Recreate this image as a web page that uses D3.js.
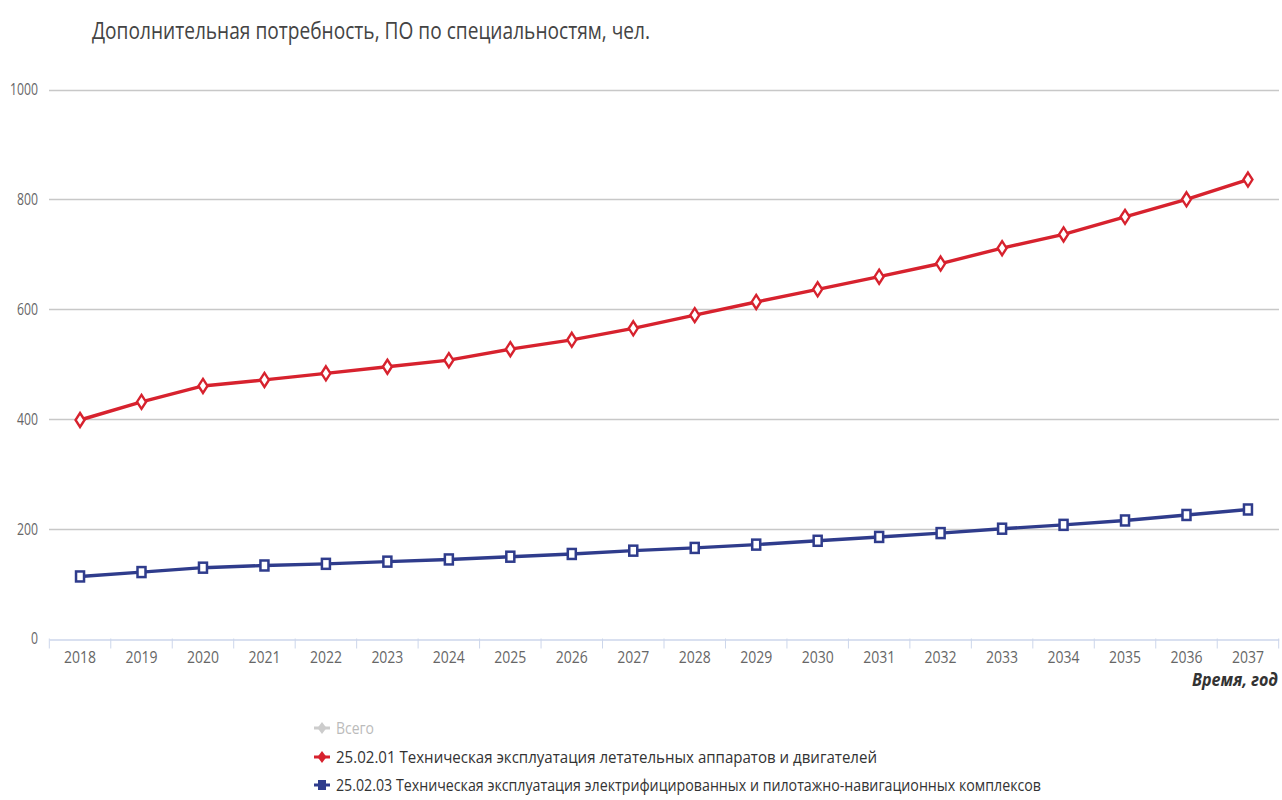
<!DOCTYPE html>
<html><head><meta charset="utf-8">
<script src="https://cdn.jsdelivr.net/npm/d3@7"></script>
<style>
html,body{margin:0;padding:0;background:#fff;}
svg{display:block;font-family:"Open Sans","DejaVu Sans",sans-serif;}
</style></head>
<body>
<svg id="chart" width="1282" height="800"></svg>
<script>
const years = ["2018","2019","2020","2021","2022","2023","2024","2025","2026","2027","2028","2029","2030","2031","2032","2033","2034","2035","2036","2037"];
const seriesRed = [398,431,460,471,483,495,507,527,544,565,589,613,636,659,683,711,736,768,800,836];
const seriesBlue = [113,121,129,133,136,140,144,149,154,160,165,171,178,185,192,200,207,215,225,235];
const yTicks = [0,200,400,600,800,1000];
const titleText = "Дополнительная потребность, ПО по специальностям, чел.";
const xTitle = "Время, год";
const legendNames = ["Всего","25.02.01 Техническая эксплуатация летательных аппаратов и двигателей","25.02.03 Техническая эксплуатация электрифицированных и пилотажно-навигационных комплексов"];

const svg = d3.select("#chart");
const x = d3.scaleBand().domain(years).range([49.3, 1278.7]);
const y = d3.scaleLinear().domain([0,1000]).range([638.5, 89.5]);
const cx = d => x(d) + x.bandwidth()/2;

// title
svg.append("text").attr("x",92).attr("y",39).attr("font-size",23).attr("fill","#444")
  .attr("textLength",558).attr("lengthAdjust","spacingAndGlyphs").text(titleText);

// grid
svg.append("g").selectAll("line").data(yTicks.filter(t=>t>0)).join("line")
  .attr("x1",49).attr("x2",1279).attr("y1",d=>Math.round(y(d))+0.5).attr("y2",d=>Math.round(y(d))+0.5)
  .attr("stroke","#c8c8c8").attr("stroke-width",1.5);

// y labels
svg.append("g").selectAll("text").data(yTicks).join("text")
  .attr("x",38).attr("y",d=>y(d)+6).attr("text-anchor","end").attr("font-size",17).attr("fill","#666")
  .attr("transform",`translate(38,0) scale(0.72,1) translate(-38,0)`)
  .text(d=>d);

// x axis
const xAxis = svg.append("g").attr("transform",`translate(0,${Math.round(y(0))+0.5})`)
  .call(d3.axisBottom(x).tickSize(0).tickPadding(0));
xAxis.select(".domain").attr("stroke","#ccd6eb").attr("stroke-width",1.5);
xAxis.selectAll(".tick text").remove();
const bounds = years.map(d=>x(d)).concat([x(years[years.length-1])+x.bandwidth()]);
svg.append("g").selectAll("line").data(bounds).join("line")
  .attr("x1",d=>d).attr("x2",d=>d).attr("y1",y(0)).attr("y2",y(0)+10)
  .attr("stroke","#ccd6eb").attr("stroke-width",1);
svg.append("g").selectAll("text").data(years).join("text")
  .attr("x",d=>cx(d)).attr("y",663).attr("text-anchor","middle").attr("font-size",17).attr("fill","#666")
  .attr("textLength",32).attr("lengthAdjust","spacingAndGlyphs")
  .text(d=>d);
svg.append("text").attr("x",1278).attr("y",686).attr("text-anchor","end").attr("font-size",17)
  .attr("font-weight","bold").attr("font-style","italic").attr("fill","#333")
  .attr("textLength",86).attr("lengthAdjust","spacingAndGlyphs").text(xTitle);

// lines
const line = d3.line().x((d,i)=>cx(years[i])).y(d=>y(d));
const red = "#d7222e", blue = "#2f3c8c";
svg.append("path").datum(seriesRed).attr("d",line).attr("fill","none").attr("stroke",red).attr("stroke-width",3.4);
svg.append("path").datum(seriesBlue).attr("d",line).attr("fill","none").attr("stroke",blue).attr("stroke-width",3.4);

// markers
const diamond = "M0,-7 L4.5,0 L0,7 L-4.5,0 Z";
svg.append("g").selectAll("path").data(seriesRed).join("path")
  .attr("d",diamond).attr("transform",(d,i)=>`translate(${cx(years[i])},${y(d)})`)
  .attr("fill","#fff").attr("stroke",red).attr("stroke-width",2.4);
svg.append("g").selectAll("rect").data(seriesBlue).join("rect")
  .attr("x",(d,i)=>cx(years[i])-4).attr("y",d=>y(d)-5).attr("width",8).attr("height",10)
  .attr("fill","#fff").attr("stroke",blue).attr("stroke-width",2.5);

// legend
const legColors = ["#cccccc", red, blue];
const legText = ["#bbbbbb","#333","#333"];
const legY = [728,757,785];
const legLen = [38, 541, 705];
const lg = svg.append("g");
legendNames.forEach((n,i)=>{
  const g = lg.append("g").attr("transform",`translate(0,${legY[i]})`);
  g.append("line").attr("x1",314).attr("x2",330).attr("y1",0).attr("y2",0).attr("stroke",legColors[i]).attr("stroke-width",3);
  if(i===2){
    g.append("rect").attr("x",318).attr("y",-5).attr("width",8).attr("height",10).attr("fill",legColors[i]);
  } else {
    g.append("path").attr("d","M0,-6 L4.5,0 L0,6 L-4.5,0 Z").attr("transform","translate(322,0)").attr("fill",legColors[i]);
  }
  g.append("text").attr("x",336).attr("y",6).attr("font-size",17).attr("fill",legText[i])
    .attr("textLength",legLen[i]).attr("lengthAdjust","spacingAndGlyphs").text(n);
});
</script>
</body></html>
